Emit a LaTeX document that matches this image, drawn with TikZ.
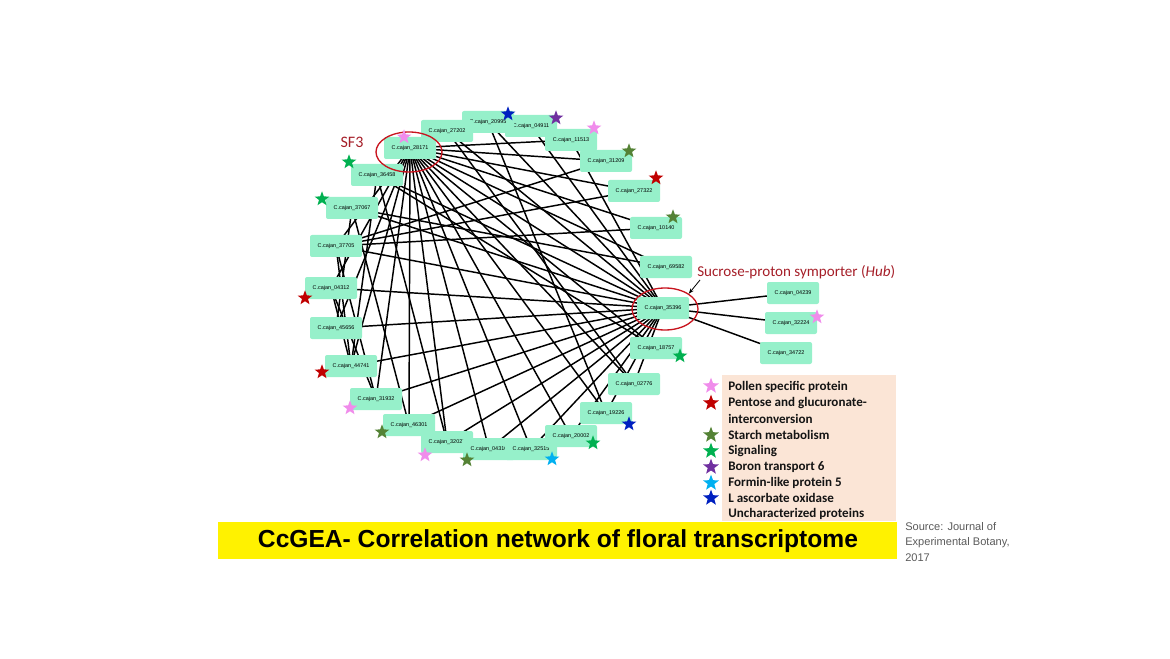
\documentclass[tikz,border=0pt]{standalone}
\usepackage{fontspec}
\usepackage{graphicx}
\setmainfont{Liberation Sans}
\newfontfamily\calibrifont{Carlito}
\usetikzlibrary{shapes.geometric,backgrounds,arrows.meta}
\definecolor{nodegreen}{RGB}{150,240,202}
\definecolor{sfred}{RGB}{165,30,40}
\definecolor{ellred}{RGB}{200,20,30}
\definecolor{cpink}{RGB}{240,140,235}
\definecolor{cred}{RGB}{192,0,0}
\definecolor{cstarch}{RGB}{84,130,53}
\definecolor{csignal}{RGB}{0,176,80}
\definecolor{cboron}{RGB}{112,48,160}
\definecolor{cformin}{RGB}{0,176,240}
\definecolor{cascorb}{RGB}{0,32,192}
\definecolor{legbg}{RGB}{251,229,214}
\definecolor{srcgray}{RGB}{90,90,90}
\definecolor{legtext}{RGB}{20,20,20}
\tikzset{
  gene/.style={rectangle, rounded corners=1.5pt, fill=nodegreen, inner sep=0pt,
    minimum width=39pt, minimum height=16.5pt, font=\fontsize{4.1pt}{5pt}\selectfont},
  link/.style={line width=1.1pt, black},
  starmark/.style={star, star points=5, star point ratio=2.4, inner sep=0pt, minimum size=11.5pt, draw=none},
  legstar/.style={star, star points=5, star point ratio=2.4, inner sep=0pt, minimum size=12.5pt, draw=none},
  ring/.style={ellipse, draw=ellred, line width=1pt, inner sep=0pt},
  legtxt/.style={anchor=west, inner sep=0pt, text=legtext, font=\calibrifont\bfseries\fontsize{9.8pt}{11pt}\selectfont},
}
\begin{document}
\begin{tikzpicture}[x=0.75pt,y=-0.75pt]
\useasboundingbox (0,0) rectangle (1170,659);
% genes (drawing order matters for overlaps)
\node[gene] (n11513) at (571,140) {C.cajan\_11513};
\node[gene] (n04911) at (531,126) {C.cajan\_04911};
\node[gene] (n20995) at (488,122) {C.cajan\_20995};
\node[gene] (n27202) at (447,131) {C.cajan\_27202};
\node[gene] (n28171) at (410,148) {C.cajan\_28171};
\node[gene] (n36458) at (377,175) {C.cajan\_36458};
\node[gene] (n37067) at (352,208) {C.cajan\_37067};
\node[gene] (n37705) at (336,246) {C.cajan\_37705};
\node[gene] (n04312) at (331,288) {C.cajan\_04312};
\node[gene] (n45656) at (336,328) {C.cajan\_45656};
\node[gene] (n44741) at (351,366) {C.cajan\_44741};
\node[gene] (n31932) at (376,399) {C.cajan\_31932};
\node[gene] (n46301) at (409,425) {C.cajan\_46301};
\node[gene] (n32027) at (447,442) {C.cajan\_32027};
\node[gene] (n04310) at (489,449) {C.cajan\_04310};
\node[gene] (n32515) at (531,449) {C.cajan\_32515};
\node[gene] (n20002) at (571,436) {C.cajan\_20002};
\node[gene] (n19226) at (606,413) {C.cajan\_19226};
\node[gene] (n02776) at (634,384) {C.cajan\_02776};
\node[gene] (n18757) at (656,348) {C.cajan\_18757};
\node[gene] (n35396) at (663,308) {C.cajan\_35396};
\node[gene] (n69582) at (666,267) {C.cajan\_69582};
\node[gene] (n10140) at (656,228) {C.cajan\_10140};
\node[gene] (n27322) at (634,191) {C.cajan\_27322};
\node[gene] (n31209) at (606,161) {C.cajan\_31209};
\node[gene] (n04239) at (793,293) {C.cajan\_04239};
\node[gene] (n32224) at (791,323) {C.cajan\_32224};
\node[gene] (n34722) at (786,353) {C.cajan\_34722};
% links
\begin{pgfonlayer}{background}
\foreach \t in {11513,31209,27322,10140,69582,35396,18757,02776,19226,20002,32515,04310,32027,46301,31932,44741,45656,04312,37705}
  \draw[link] (n28171.center) -- (n\t.center);
\foreach \t in {37705,04312,45656,44741,31932,46301,32027,04310,32515,20002,19226,02776,37067,36458,27202,20995,04911,11513,04239,32224,34722}
  \draw[link] (n35396.center) -- (n\t.center);
\draw[link] (n37705.center) -- (n31209.center);
\draw[link] (n37705.center) -- (n27322.center);
\draw[link] (n37705.center) -- (n10140.center);
\draw[link] (n37067.center) -- (n69582.center);
\draw[link] (n36458.center) -- (n18757.center);
\draw[link] (n37705.center) -- (n31932.center);
\draw[link] (n37705.center) -- (n44741.center);
\draw[link] (n04312.center) -- (n31932.center);
\draw[link] (n04312.center) -- (n44741.center);
\draw[link] (n37067.center) -- (n45656.center);
\draw[link] (n36458.center) -- (n44741.center);
\draw[link] (n37067.center) -- (n46301.center);
\draw[link] (n36458.center) -- (n32027.center);
\draw[link] (n27202.center) -- (n02776.center);
\draw[link] (n20995.center) -- (n19226.center);
\end{pgfonlayer}
% highlight rings
\node[ring, minimum width=49.5pt, minimum height=30pt] (sfring) at (409,152) {};
\node[ring, minimum width=49.5pt, minimum height=31.5pt] (hubring) at (665,309) {};
\node[text=sfred, font=\calibrifont\fontsize{12pt}{14pt}\selectfont, inner sep=0pt] (sflab) at (352,142) {SF3};
\node[text=sfred, font=\calibrifont\fontsize{11.3pt}{13pt}\selectfont, inner sep=0pt, anchor=west] (hublab) at (697,272) {Sucrose-proton symporter (\textit{Hub})};
\coordinate (arrstart) at (700,280);
\draw[-{Stealth[length=4pt,width=3pt]}, line width=0.6pt] (arrstart) -- (hubring.north east);
% stars on network
\node[starmark, fill=cpink] (st1) at (404,137) {};
\node[starmark, fill=csignal] (st2) at (349,162) {};
\node[starmark, fill=csignal] (st3) at (322,199) {};
\node[starmark, fill=cascorb] (st4) at (508,114) {};
\node[starmark, fill=cboron] (st5) at (556,118) {};
\node[starmark, fill=cpink] (st6) at (594,128) {};
\node[starmark, fill=cstarch] (st7) at (629,151) {};
\node[starmark, fill=cred] (st8) at (656,178) {};
\node[starmark, fill=cstarch] (st9) at (673,217) {};
\node[starmark, fill=cpink] (st10) at (817,317) {};
\node[starmark, fill=csignal] (st11) at (680,356) {};
\node[starmark, fill=cred] (st12) at (305,298) {};
\node[starmark, fill=cred] (st13) at (322,372) {};
\node[starmark, fill=cpink] (st14) at (350,408) {};
\node[starmark, fill=cstarch] (st15) at (382,432) {};
\node[starmark, fill=cpink] (st16) at (425,455) {};
\node[starmark, fill=cstarch] (st17) at (467,460) {};
\node[starmark, fill=cformin] (st18) at (552,459) {};
\node[starmark, fill=csignal] (st19) at (593,443) {};
\node[starmark, fill=cascorb] (st20) at (629,424) {};
% legend
\node[fill=legbg, minimum width=130.5pt, minimum height=109.5pt, inner sep=0pt] (legbox) at (809,448) {};
\node[legstar, fill=cpink] (l1) at (711,386) {};
\node[legstar, fill=cred] (l2) at (711,403) {};
\node[legstar, fill=cstarch] (l3) at (711,435) {};
\node[legstar, fill=csignal] (l4) at (711,451) {};
\node[legstar, fill=cboron] (l5) at (711,467) {};
\node[legstar, fill=cformin] (l6) at (711,483) {};
\node[legstar, fill=cascorb] (l7) at (711,498) {};
\node[legtxt] (t1) at (728,387) {Pollen specific protein};
\node[legtxt] (t2) at (728,403) {Pentose and glucuronate-};
\node[legtxt] (t2b) at (728,419) {interconversion};
\node[legtxt] (t3) at (728,435) {Starch metabolism};
\node[legtxt] (t4) at (728,451) {Signaling};
\node[legtxt] (t5) at (728,467) {Boron transport 6};
\node[legtxt] (t6) at (728,483) {Formin-like protein 5};
\node[legtxt] (t7) at (728,498) {L ascorbate oxidase};
\node[legtxt] (t8) at (728,514) {Uncharacterized proteins};
% title bar
\node[fill=yellow, minimum width=509.25pt, minimum height=27.75pt, inner sep=0pt] (titlebar) at (557.5,540.5) {};
\node[inner sep=0pt, font=\bfseries\fontsize{18.5pt}{20pt}\selectfont] (title) at (558,541) {\resizebox{450pt}{\height}{CcGEA- Correlation network of floral transcriptome}};
\node[anchor=north west, inner sep=0pt, align=left, text=srcgray, font=\fontsize{8.3pt}{11.6pt}\selectfont] (source) at (905,522) {Source: Journal of\\Experimental Botany,\\2017};
\end{tikzpicture}
\end{document}
